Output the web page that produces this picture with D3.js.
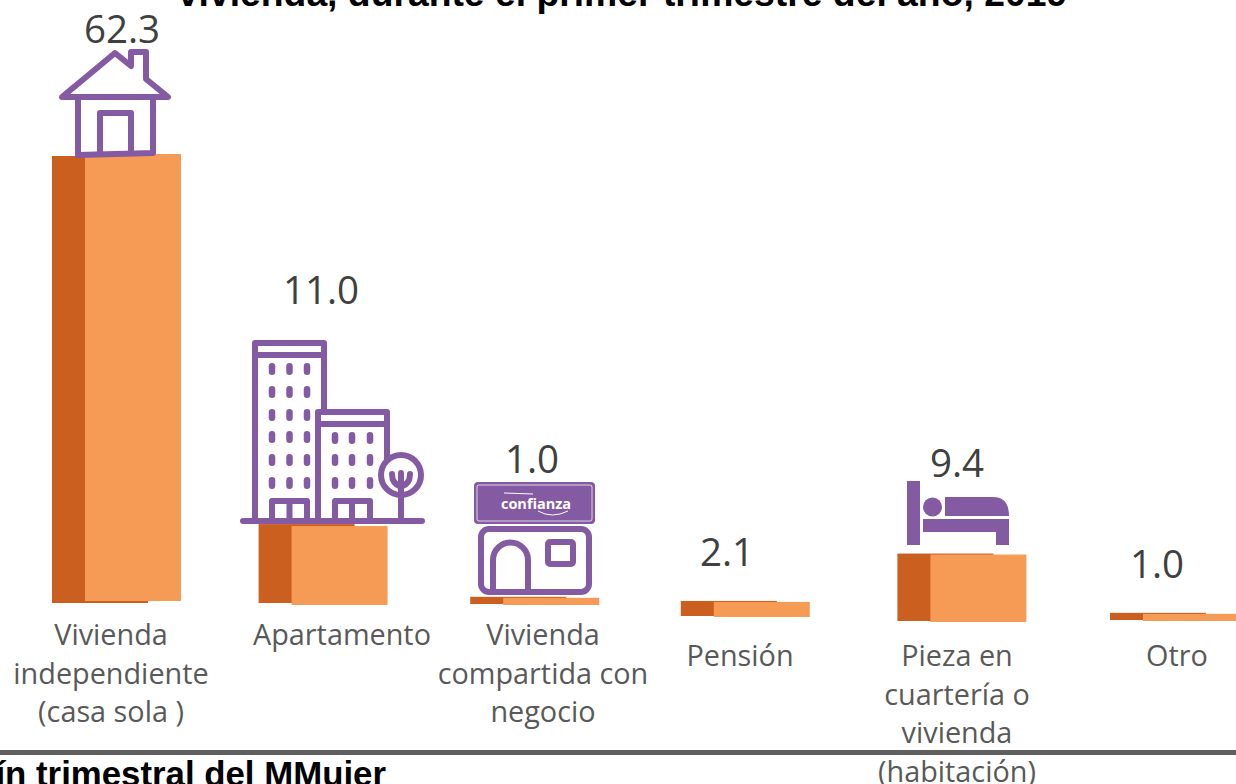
<!DOCTYPE html>
<meta charset="utf-8">
<style>
html, body { margin: 0; background: #fff; overflow: hidden; }
svg { display: block; }
.cat { font-family: "Open Sans", sans-serif; font-size: 28.8px; fill: #595959; text-anchor: middle; }
.val { font-family: "Open Sans", sans-serif; font-size: 38.5px; fill: #404040; text-anchor: middle; }
.head { font-family: "Liberation Sans", Arial, sans-serif; font-weight: bold; fill: #000; }
.line { fill: none; stroke: #845aa2; stroke-width: 6; stroke-linejoin: round; stroke-linecap: round; }
.solid { fill: #845aa2; }
</style>
<svg width="1236" height="784"></svg>
<script src="https://d3js.org/d3.v7.min.js"></script>
<script>
// data
var categories = [
  ["Vivienda", "independiente", "(casa sola )"],
  ["Apartamento"],
  ["Vivienda", "compartida con", "negocio"],
  ["Pensión"],
  ["Pieza en", "cuartería o", "vivienda", "(habitación)"],
  ["Otro"]
];
var values = [62.3, 11.0, 1.0, 2.1, 9.4, 1.0];
var valueLabels = ["62.3", "11.0", "1.0", "2.1", "9.4", "1.0"];

// layout: the bars in the picture do not share a baseline, so they are nudged by hand
var nudgeX = [0, -5, -5, -6, -1, 0];
var frontShift = [0, 4, 4, 16, 21, 20];
var backShift = [2, 2, 3, 15, 20, 19];
var valueCx = [122, 321, 532, 727, 957, 1157];
var valueGap = [111, 222, 125, 36, 78, 36];
var catCx = [111, 342, 543, 740, 957, 1177];
var catY = [645, 645, 645, 666, 666, 666];

var svg = d3.select("svg"),
    width = +svg.attr("width"),
    height = +svg.attr("height");

var barWidth = 96, backOffset = 33, lineHeight = 38.5;

var x = d3.scaleBand()
    .domain(d3.range(values.length))
    .range([85, 85 + 211.6 * values.length]);

var y = d3.scaleLinear()
    .domain([0, 62.3])
    .range([601, 154]);

var bars = svg.append("g").selectAll("g")
  .data(values)
  .enter().append("g");

bars.append("rect")
    .attr("x", function(d, i) { return x(i) + nudgeX[i] - backOffset; })
    .attr("y", function(d, i) { return y(d) + backShift[i]; })
    .attr("width", barWidth)
    .attr("height", function(d) { return y(0) - y(d); })
    .attr("fill", "#ca5f20");

bars.append("rect")
    .attr("x", function(d, i) { return x(i) + nudgeX[i]; })
    .attr("y", function(d, i) { return y(d) + frontShift[i]; })
    .attr("width", barWidth)
    .attr("height", function(d) { return y(0) - y(d); })
    .attr("fill", "#f59b55");

svg.append("g").selectAll("text")
  .data(values)
  .enter().append("text")
    .attr("class", "val")
    .attr("x", function(d, i) { return valueCx[i]; })
    .attr("y", function(d, i) { return y(d) + frontShift[i] - valueGap[i]; })
    .text(function(d, i) { return valueLabels[i]; });

svg.append("g").selectAll("text")
  .data(categories)
  .enter().append("text")
    .attr("class", "cat")
    .attr("y", function(d, i) { return catY[i]; })
    .each(function(lines, i) {
      d3.select(this).selectAll("tspan")
        .data(lines)
        .enter().append("tspan")
          .attr("x", catCx[i])
          .attr("y", function(l, j) { return catY[i] + j * lineHeight; })
          .text(function(l) { return l; });
    });

// title and footer run off the edges of the picture
svg.append("text")
    .attr("class", "head")
    .attr("x", 622.5)
    .attr("y", 6)
    .attr("text-anchor", "middle")
    .attr("font-size", 37.3)
    .text("vivienda, durante el primer trimestre del año, 2019");

svg.append("rect")
    .attr("x", 0).attr("y", 750)
    .attr("width", width).attr("height", 5)
    .attr("fill", "#5f5f5f");

svg.append("text")
    .attr("class", "head")
    .attr("x", 386)
    .attr("y", 786)
    .attr("text-anchor", "end")
    .attr("font-size", 34.8)
    .text("Boletín trimestral del MMujer");

// icons
var icons = svg.append("g");

// house
icons.append("path").attr("class", "line")
    .attr("d", "M62,97 L115,53 L131,66 L131,52 L146,52 L146,79 L168,97 Z");
icons.append("path").attr("class", "line")
    .attr("d", "M78,97 L78,155 L153,153 L153,97 M100,153 L100,113 L131,113 L131,153");

// apartments
icons.append("path").attr("class", "line")
    .attr("d", "M243,521 L422,521 M255,521 L255,343 L324,343 L324,412 M255,355 L324,355"
      + " M318,521 L318,412 L387,412 L387,460 M318,424 L387,424"
      + " M272,521 L272,501 L307,501 L307,521 M289.5,501 L289.5,521"
      + " M335,521 L335,501 L370,501 L370,521 M352,501 L352,521");

var winX = [272, 289.5, 307], winY = [369, 392, 415, 437, 460, 483];
var winX2 = [335, 352, 370], winY2 = [438, 460, 483];
function windows(xs, ys) {
  xs.forEach(function(wx) {
    ys.forEach(function(wy) {
      icons.append("rect").attr("class", "solid")
          .attr("x", wx - 3.25).attr("y", wy - 6)
          .attr("width", 6.5).attr("height", 12).attr("rx", 3.25);
    });
  });
}
windows(winX, winY);
windows(winX2, winY2);

icons.append("circle").attr("class", "line")
    .attr("cx", 401).attr("cy", 475).attr("r", 20)
    .style("fill", "#fff");
icons.append("path").attr("class", "line")
    .attr("d", "M401,521 L401,473 M392,474 Q392,484 401,487 Q410,484 410,474");

// shop
icons.append("rect").attr("class", "solid")
    .attr("x", 474).attr("y", 482).attr("width", 121).attr("height", 42).attr("rx", 4);
icons.append("rect")
    .attr("x", 477).attr("y", 485).attr("width", 115).attr("height", 36).attr("rx", 2)
    .attr("fill", "none").attr("stroke", "#fff").attr("stroke-opacity", 0.75);
icons.append("text")
    .attr("x", 536).attr("y", 509)
    .attr("text-anchor", "middle")
    .attr("font-family", "'Open Sans', sans-serif")
    .attr("font-size", 14.5).attr("font-weight", "bold")
    .attr("fill", "#fff")
    .text("confianza");
icons.append("path")
    .attr("d", "M538,511 Q552,519 568,511 M504,493 L533,494")
    .attr("fill", "none").attr("stroke", "#fff").attr("stroke-width", 1);
icons.append("rect").attr("class", "line")
    .attr("x", 481).attr("y", 529).attr("width", 108).attr("height", 63).attr("rx", 8);
icons.append("path").attr("class", "line")
    .attr("d", "M493,590 L493,560 A17.5,17.5 0 0 1 528,560 L528,590");
icons.append("rect").attr("class", "line")
    .attr("x", 548).attr("y", 542).attr("width", 25).attr("height", 22).attr("rx", 2);

// bed
icons.append("rect").attr("class", "solid")
    .attr("x", 907).attr("y", 481).attr("width", 13).attr("height", 64);
icons.append("circle").attr("class", "solid")
    .attr("cx", 932.5).attr("cy", 507).attr("r", 9.5);
icons.append("path").attr("class", "solid")
    .attr("d", "M945,497 L993,497 Q1009,497 1009,516 L945,516 Z");
icons.append("path").attr("class", "solid")
    .attr("d", "M923,519 L1009,519 L1009,545 L996,545 L996,532 L923,532 Z");
</script>
